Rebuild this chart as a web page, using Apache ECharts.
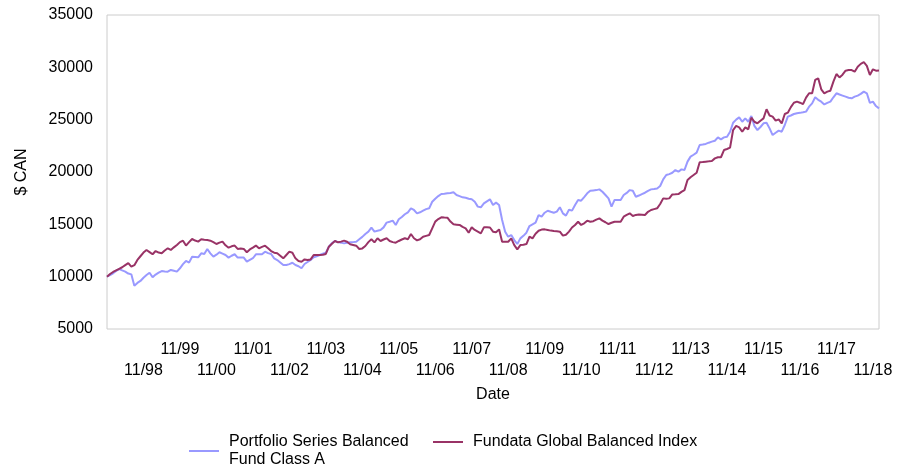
<!DOCTYPE html>
<html>
<head>
<meta charset="utf-8">
<script src="https://cdn.jsdelivr.net/npm/echarts@6/dist/echarts.min.js"></script>
<style>
  html, body { margin: 0; padding: 0; background: #fff; }
  #chart-container { width: 907px; height: 467px; }
</style>
</head>
<body>
<div id="chart-container"></div>
<script>
// monthly values, 11/97 .. 01/19
const startYear = 1997;
const startMonth = 11;

const portfolioValues = [
  10000, 10150, 10320, 10550, 10730, 10600, 10480, 10300, 10220, 9140, 9400, 9590,
  9900, 10160, 10380, 9940, 10200, 10380, 10540, 10500, 10480, 10640, 10560, 10480,
  10800, 11200, 11500, 11340, 11910, 11880, 11850, 12230, 12170, 12640, 12230, 11910,
  12100, 12330, 12200, 12070, 11820, 12000, 12140, 11820, 11820, 11820, 11430, 11600,
  11760, 12140, 12140, 12140, 12390, 12250, 12170, 11750, 11590, 11350, 11110, 11110,
  11200, 11330, 11110, 11000, 10800, 11210, 11400, 11590, 11850, 11950, 12070, 12200,
  12290, 12860, 13200, 13410, 13300, 13250, 13180, 13230, 13280, 13300, 13340, 13570,
  13800, 14080, 14300, 14680, 14300, 14380, 14460, 14710, 15160, 15250, 15350, 14940,
  15480, 15700, 15960, 16150, 16530, 16370, 16050, 16150, 16300, 16450, 16530, 17160,
  17450, 17700, 17900, 17920, 17960, 18000, 18060, 17800, 17700, 17580, 17540, 17450,
  17390, 17160, 16690, 16630, 17000, 17200, 17390, 16850, 17070, 16850, 15410, 14300,
  13820, 13980, 13500, 13120, 13660, 13900, 14200, 14840, 15000, 15160, 15890, 15730,
  16110, 16300, 16200, 16110, 16210, 16630, 16050, 15830, 16400, 16310, 16850, 17330,
  17260, 17600, 17960, 18210, 18240, 18270, 18340, 18110, 17800, 17480, 16690, 17330,
  17330, 17330, 17800, 18000, 18270, 18210, 17640, 17750, 17890, 18020, 18200, 18340,
  18380, 18430, 18660, 19300, 19710, 19800, 19930, 20190, 20030, 20250, 20190, 20990,
  21470, 21650, 21850, 22580, 22620, 22680, 22800, 22900, 22990, 23310, 23120, 23310,
  23370, 23850, 24710, 25000, 25220, 24800, 25120, 24800, 25350, 24400, 24010, 24300,
  24650, 24710, 24170, 23530, 23750, 23950, 23850, 24490, 25290, 25400, 25540, 25610,
  25650, 25700, 25770, 26240, 26560, 27140, 26900, 26720, 26460, 26600, 26720, 27140,
  27520, 27400, 27300, 27200, 27100, 27040, 27200, 27300, 27460, 27680, 27520, 26600,
  26720, 26300, 26080
];

const indexValues = [
  10000, 10250, 10450, 10600, 10750, 10900, 11100, 11300, 10950, 11100, 11600, 11950,
  12300, 12550, 12350, 12140, 12450, 12300, 12230, 12500, 12710, 12550, 12800, 13030,
  13300, 13440, 12970, 13300, 13600, 13450, 13350, 13570, 13520, 13500, 13440, 13300,
  13120, 13250, 13350, 13000, 12770, 12900, 12970, 12650, 12700, 12650, 12330, 12600,
  12770, 12970, 12710, 12850, 12960, 12710, 12450, 12290, 12230, 12000, 11750, 12070,
  12390, 12290, 11750, 11500, 11430, 11650, 11600, 11650, 12070, 12070, 12070, 12100,
  12170, 12860, 13150, 13410, 13280, 13350, 13440, 13340, 13100, 13030, 12960, 12640,
  12700, 12930, 13300, 13570, 13280, 13670, 13410, 13550, 13670, 13410, 13300, 13250,
  13410, 13550, 13670, 13570, 14080, 13670, 13470, 13570, 13820, 13900, 13980, 14620,
  15260, 15500, 15670, 15650, 15640, 15260, 15000, 14970, 14940, 14750, 14620, 14200,
  14710, 14460, 14300, 14140, 14710, 14710, 14700, 14300, 14240, 14520, 13340, 13340,
  13340, 13660, 13020, 12610, 13020, 13050, 13120, 13820, 13660, 14100, 14390, 14500,
  14520, 14460, 14400, 14360, 14330, 14300, 13920, 14000, 14300, 14700, 14940, 15250,
  14940, 15100, 15350, 15250, 15300, 15450, 15570, 15350, 15200, 15030, 15150, 15250,
  15250, 15250, 15730, 15900, 16050, 15800, 15900, 15950, 15920, 15890, 16200, 16370,
  16450, 16530, 16940, 17480, 17450, 17480, 17860, 17870, 17890, 18100, 18270, 19240,
  19500, 19710, 19930, 20930, 20950, 20990, 21020, 21060, 21300, 21410, 21410, 22100,
  22200, 22330, 24010, 24400, 24270, 23850, 24270, 24080, 25190, 24800, 24650, 24900,
  25120, 25990, 25400, 25290, 24910, 25030, 24650, 25540, 25670, 26200, 26620, 26720,
  26620, 26490, 27100, 27520, 27520, 28790, 28950, 27900, 27520, 27680, 27770, 28630,
  29360, 29040, 29300, 29680, 29740, 29740, 29580, 30060, 30330, 30490, 30140, 29270,
  29810, 29680, 29700
];

const seriesNames = ['Portfolio Series Balanced\nFund Class A', 'Fundata Global Balanced Index'];

const categories = portfolioValues.map((v, i) => {
  const m = (startMonth - 1 + i) % 12 + 1;
  const y = startYear + Math.floor((startMonth - 1 + i) / 12);
  return String(m).padStart(2, '0') + '/' + String(y % 100).padStart(2, '0');
});

const chartContainer = document.getElementById('chart-container');
const myChart = echarts.init(chartContainer);

const fontFamily = 'Liberation Sans, Arial, sans-serif';

const legendBase = {
  itemWidth: 30,
  itemHeight: 10,
  icon: 'path://M0,4 L30,4 L30,6 L0,6 Z',
  textStyle: {
    fontSize: 16,
    lineHeight: 18,
    color: '#000',
    padding: [0, 0, 0, 5]
  }
};

// two stacked rows of year labels: odd years on top, even years below
function makeXAxis(row) {
  return {
    type: 'category',
    data: categories,
    boundaryGap: false,
    position: 'bottom',
    offset: row === 0 ? 0 : 21,
    name: row === 0 ? 'Date' : '',
    nameLocation: 'middle',
    nameGap: 58,
    nameTextStyle: { fontSize: 16, color: '#000' },
    axisLine: { show: false },
    axisTick: { show: false },
    splitLine: { show: false },
    axisLabel: {
      interval: function (idx) { return idx > 0 && idx % 24 === (row === 0 ? 0 : 12); },
      fontSize: 16,
      color: '#000',
      margin: 13
    }
  };
}

const options = {
  animation: false,
  backgroundColor: '#ffffff',
  textStyle: { fontFamily: fontFamily },
  grid: {
    left: 107,
    right: 28,
    top: 15,
    bottom: 138,
    show: true,
    borderColor: '#cccccc',
    borderWidth: 1
  },
  legend: [
    Object.assign({}, legendBase, { left: 184, top: 428, data: [seriesNames[0]] }),
    Object.assign({}, legendBase, { left: 428, top: 428, data: [seriesNames[1]] })
  ],
  xAxis: [makeXAxis(0), makeXAxis(1)],
  yAxis: {
    type: 'value',
    min: 5000,
    max: 35000,
    interval: 5000,
    name: '$ CAN',
    nameLocation: 'middle',
    nameGap: 77,
    nameTextStyle: { fontSize: 16, color: '#000' },
    axisLine: { show: false },
    axisTick: { show: false },
    splitLine: { show: false },
    axisLabel: {
      formatter: function (v) { return String(v); },
      fontSize: 16,
      color: '#000',
      margin: 14
    }
  },
  series: [
    {
      name: seriesNames[0],
      type: 'line',
      data: portfolioValues,
      showSymbol: false,
      lineStyle: { color: '#9999ff', width: 2 },
      itemStyle: { color: '#9999ff' }
    },
    {
      name: seriesNames[1],
      type: 'line',
      data: indexValues,
      showSymbol: false,
      lineStyle: { color: '#993366', width: 2 },
      itemStyle: { color: '#993366' }
    }
  ]
};

myChart.setOption(options);

window.addEventListener('resize', function () {
  myChart.resize();
});
</script>
</body>
</html>
